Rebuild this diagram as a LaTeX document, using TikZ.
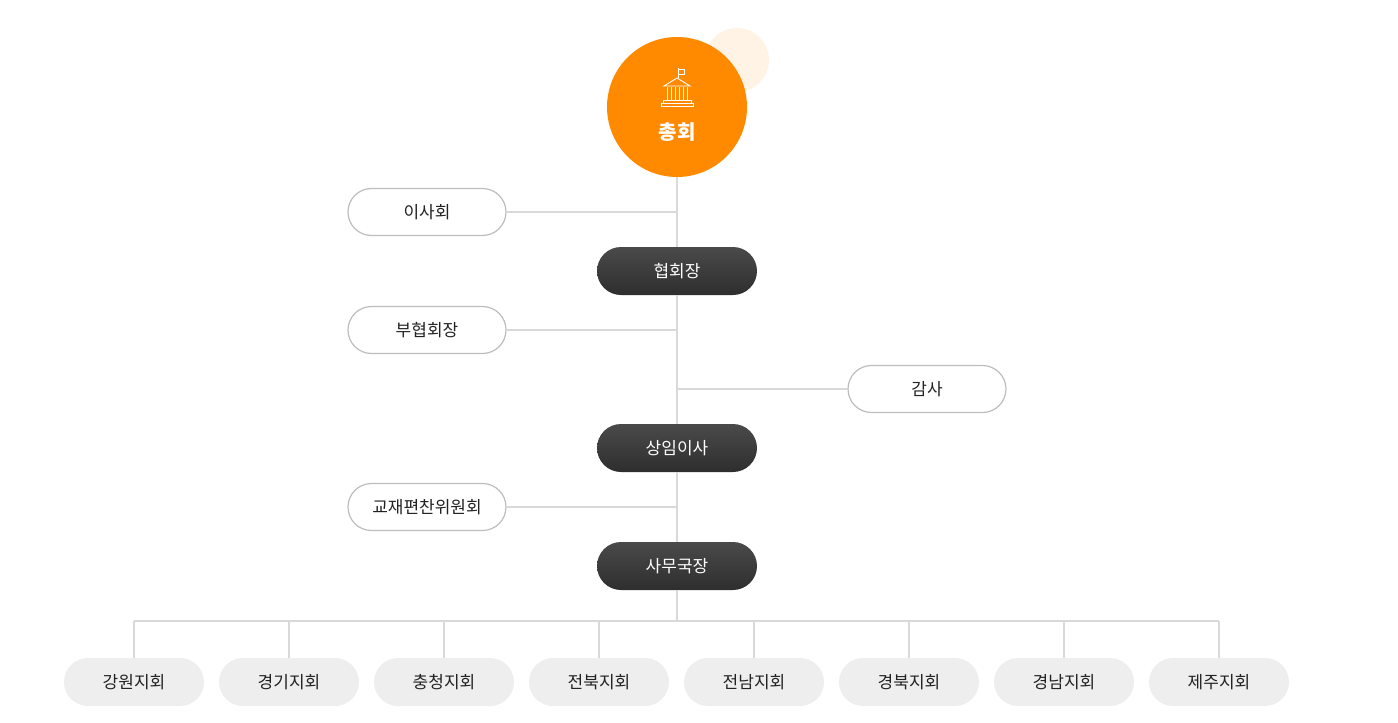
\documentclass[tikz,border=0pt]{standalone}
\usepackage{fontspec}
\newfontfamily\kr{Noto Sans CJK KR}
\definecolor{org}{HTML}{FF8A00}
\definecolor{lorg}{HTML}{FFF3E6}
\definecolor{ln}{HTML}{D9D9D9}
\definecolor{bd}{HTML}{BDBDBD}
\definecolor{dk}{HTML}{3A3A3A}
\definecolor{dk2}{HTML}{2E2E2E}
\definecolor{dk1}{HTML}{4A4A4A}
\definecolor{lg}{HTML}{EEEEEE}
\definecolor{tx}{HTML}{222222}
\tikzset{
 side/.style={draw=bd,line width=1.2pt,fill=white,rounded corners=23.5pt,minimum width=158pt,minimum height=47pt,inner sep=0pt,font=\kr\fontsize{17}{19}\selectfont,text=tx},
 main/.style={top color=dk1,bottom color=dk2,rounded corners=24pt,minimum width=160pt,minimum height=48pt,inner sep=0pt,font=\kr\fontsize{17}{19}\selectfont,text=white},
 branch/.style={fill=lg,rounded corners=24pt,minimum width=140pt,minimum height=48pt,inner sep=0pt,font=\kr\fontsize{17}{19}\selectfont,text=tx},
 conn/.style={draw=ln,line width=1.2pt},
 icon/.style={draw=white,line width=0.9pt}
}
\begin{document}
\begin{tikzpicture}[x=1pt,y=-1pt]
\useasboundingbox (0,0) rectangle (1398,723);
\fill[lorg] (737,60) circle (32);
\node[circle,fill=org,minimum size=140pt,inner sep=0pt] (top) at (677,107) {};
\node[font=\kr\bfseries\fontsize{20}{22}\selectfont,text=white] (toptx) at (677,132) {총회};
% icon
\draw[icon] (678,78)--(678,68) (678,69) rectangle (684,74);
\draw[icon] (664,86)--(677,78)--(690,86)--cycle;
\foreach \x in {667,671,675,679,683,687} \draw[icon] (\x,87)--(\x,100);
\draw[icon] (663,100) rectangle (691,103);
\draw[icon] (661,103) rectangle (693,106);
% nodes
\node[side] (a) at (427,212) {이사회};
\node[main] (b) at (677,271) {협회장};
\node[side] (c) at (427,330) {부협회장};
\node[side] (d) at (927,389) {감사};
\node[main] (e) at (677,448) {상임이사};
\node[side] (f) at (427,507) {교재편찬위원회};
\node[main] (g) at (677,566) {사무국장};
\coordinate (bus) at (677,621);
\draw[conn] (top.south)--(b.north) (b.south)--(e.north) (e.south)--(g.north) (g.south)--(bus);
\draw[conn] (a.east)--(a.east-|top); \draw[conn] (c.east)--(c.east-|top);
\draw[conn] (d.west)--(d.west-|top); \draw[conn] (f.east)--(f.east-|top);
\foreach \n/\x/\t in {1/134/강원지회,2/289/경기지회,3/444/충청지회,4/599/전북지회,5/754/전남지회,6/909/경북지회,7/1064/경남지회,8/1219/제주지회}{
 \node[branch] (h\n) at (\x,682) {\t};
 \draw[conn] (h\n.north)--(h\n.north|-bus);
}
\draw[conn] (h1.north|-bus)--(h8.north|-bus);
\end{tikzpicture}
\end{document}
